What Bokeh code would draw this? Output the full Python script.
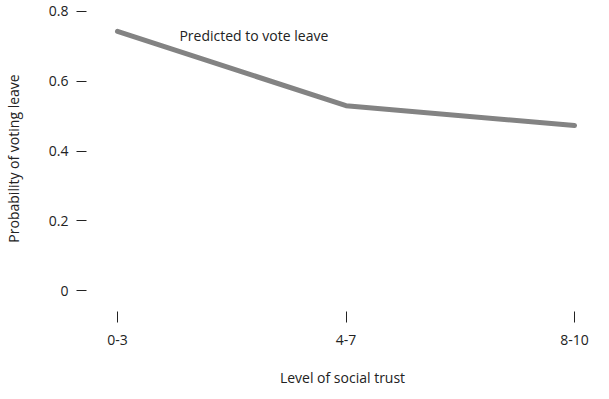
from bokeh.plotting import figure
from bokeh.models import FixedTicker, Range1d, Label
from bokeh.embed import file_html
from bokeh.resources import INLINE

categories = ["0-3", "4-7", "8-10"]
probability = [0.743, 0.530, 0.473]
y_ticks = [0, 0.2, 0.4, 0.6, 0.8]
y_tick_labels = ["0", "0.2", "0.4", "0.6", "0.8"]
series_label = "Predicted to vote leave"

FONT = "Open Sans"
TXT = "#222222"
FS = "14px"

xs = list(range(len(categories)))

p = figure(width=600, height=391, output_backend="svg", toolbar_location=None,
           x_range=Range1d(-0.1357, 2.105), y_range=Range1d(-0.0602, 0.8172),
           min_border_left=86, min_border_right=2, min_border_top=5, min_border_bottom=80)
p.outline_line_color = None
p.grid.grid_line_color = None
p.background_fill_color = "white"

p.line(xs, probability, line_color="#838383", line_width=5, line_cap="round", line_join="round")

p.add_layout(Label(x=0.271, y=0.731, text=series_label, text_font=FONT, text_font_size=FS,
                   text_color=TXT, text_baseline="middle", text_align="left"))

# x axis
xa = p.xaxis[0]
xa.ticker = FixedTicker(ticks=xs)
xa.major_label_overrides = {i: c for i, c in enumerate(categories)}
xa.axis_line_color = None
xa.major_tick_line_color = TXT
xa.major_tick_in = 0
xa.major_tick_out = 11
xa.minor_tick_line_color = None
xa.major_label_standoff = 12
xa.major_label_text_font = FONT
xa.major_label_text_font_size = FS
xa.major_label_text_color = TXT
xa.axis_label = "Level of social trust"
xa.axis_label_text_font = FONT
xa.axis_label_text_font_size = FS
xa.axis_label_text_font_style = "normal"
xa.axis_label_text_color = TXT
xa.axis_label_standoff = 20

ya = p.yaxis[0]
ya.ticker = FixedTicker(ticks=y_ticks)
ya.major_label_overrides = {t: l for t, l in zip(y_ticks, y_tick_labels)}
ya.axis_line_color = None
ya.major_tick_line_color = TXT
ya.major_tick_in = 0
ya.major_tick_out = 10
ya.minor_tick_line_color = None
ya.major_label_standoff = 8
ya.major_label_text_font = FONT
ya.major_label_text_font_size = FS
ya.major_label_text_color = TXT
ya.axis_label = "Probability of voting leave"
ya.axis_label_text_font = FONT
ya.axis_label_text_font_size = FS
ya.axis_label_text_font_style = "normal"
ya.axis_label_text_color = TXT
ya.axis_label_standoff = 23

open("out.html", "w").write(file_html(p, INLINE))
